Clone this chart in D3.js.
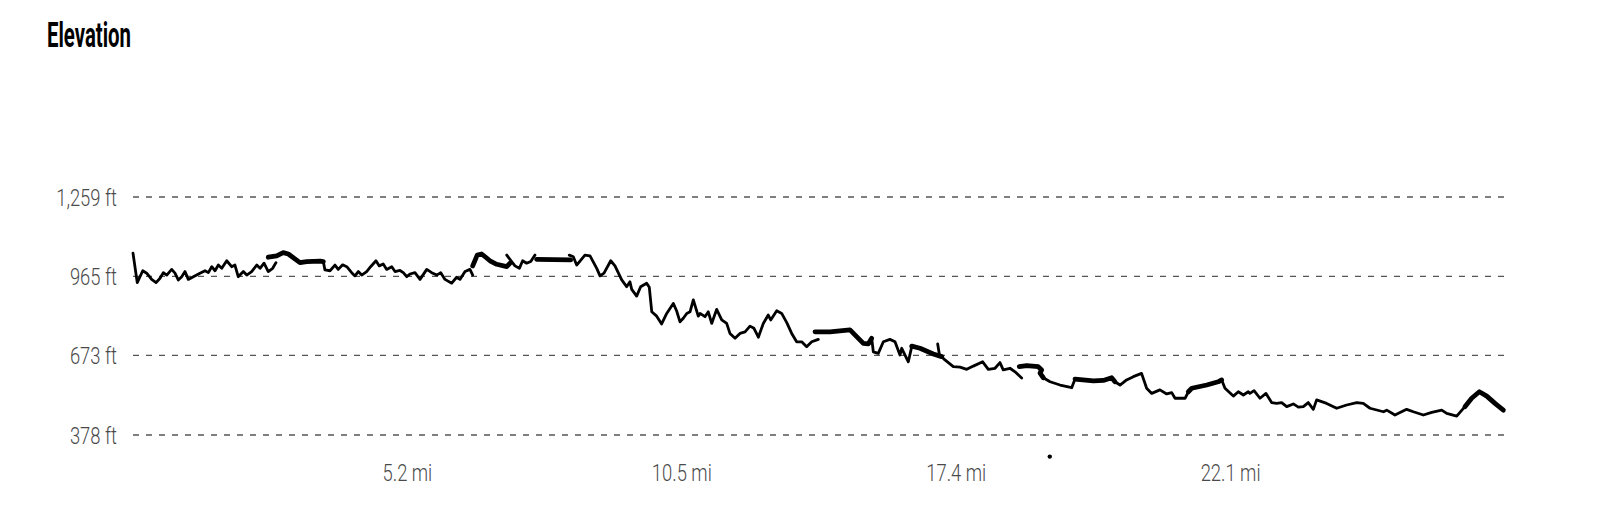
<!DOCTYPE html>
<html>
<head>
<meta charset="utf-8">
<script src="https://cdn.jsdelivr.net/npm/d3@7"></script>
<style>
  body { margin: 0; background: #fff; }
</style>
</head>
<body>
<div id="chart"></div>
<script>
var width = 1600,
    height = 528

// y axis ticks (ft) and x axis ticks (% of track) with their labels
var yTicks = [378, 673, 965, 1259]
var xTickPos = [20, 40, 60, 80]
var xTickLabels = ["5.2 mi", "10.5 mi", "17.4 mi", "22.1 mi"]

// track pieces: [percent of track, elevation ft]
var seg1 = [[0,1051],[0.31,942],[0.71,986],[1.0,977],[1.36,954],[1.68,942],[1.97,958],[2.21,979],[2.46,970],[2.82,991],[3.06,977],[3.30,952],[3.55,964],[3.79,983],[4.03,954],[4.40,964],[4.88,977],[5.25,986],[5.49,979],[5.74,1001],[5.98,986],[6.22,1007],[6.47,995],[6.83,1023],[7.19,1001],[7.43,1007],[7.67,964],[8.04,983],[8.29,970],[8.65,983],[9.02,1007],[9.26,995],[9.55,1014],[9.86,983],[10.18,995],[10.42,1016]]
var seg2 = [[9.86,1036],[10.47,1041],[10.95,1053],[11.32,1048],[12.17,1016],[12.66,1020],[13.63,1022],[13.87,1020]]
var seg3 = [[13.87,1020],[13.99,989],[14.36,986],[14.72,1007],[14.96,991],[15.28,1008],[15.58,1001],[15.94,979],[16.18,967],[16.42,983],[16.67,970],[17.03,983],[17.32,1001],[17.71,1023],[17.95,1004],[18.24,1011],[18.49,991],[18.86,1001],[19.10,983],[19.46,987],[19.70,979],[19.95,964],[20.19,974],[20.55,979],[20.92,954],[21.41,991],[21.77,979],[22.14,970],[22.43,979],[22.74,954],[23.23,940],[23.59,962],[23.83,954],[24.20,983],[24.56,991],[24.76,970]]
var seg4 = [[24.76,1004],[25.09,1044],[25.41,1048],[26.02,1023],[26.51,1010],[27.24,1001],[27.48,1014]]
var seg5 = [[27.24,1044],[27.60,1020],[27.84,1004],[28.16,995],[28.40,1023],[28.69,1014],[28.99,1020],[29.30,1044]]
var seg6 = [[29.42,1028],[31.90,1026]]
var seg7 = [[31.80,1044],[32.09,1038],[32.34,1007],[32.94,1044],[33.31,1041],[33.80,995],[34.04,967],[34.33,977],[34.82,1023],[35.13,1004],[35.62,952],[35.98,927],[36.22,945],[36.35,917],[36.71,892],[37.00,927],[37.44,940],[37.63,925],[37.81,834],[38.17,818],[38.53,789],[38.90,828],[39.38,865],[39.62,838],[39.87,797],[40.11,810],[40.36,828],[40.60,834],[40.84,878],[41.20,818],[41.33,828],[41.69,816],[41.93,834],[42.18,791],[42.54,843],[42.91,804],[43.27,791],[43.51,754],[43.88,736],[44.24,754],[44.61,760],[44.97,781],[45.26,773],[45.58,740],[45.94,791],[46.30,822],[46.48,804],[46.92,838],[47.28,828],[47.65,794],[48.01,754],[48.37,723],[48.74,723],[49.10,705],[49.47,723],[49.95,732]]
var seg8 = [[49.71,760],[50.80,760],[52.26,767],[53.23,717],[53.59,715],[53.84,736]]
var seg9 = [[53.84,736],[53.96,686],[54.32,680],[54.69,723],[55.17,732],[55.54,723],[55.90,674],[56.03,699],[56.27,674],[56.51,649],[56.76,705]]
var seg10 = [[56.76,707],[57.36,699],[58.33,678],[58.94,668]]
var seg11 = [[58.65,715],[58.80,668]]
var seg12 = [[58.94,668],[59.18,656],[59.79,631],[60.28,629],[60.77,621],[61.25,633],[61.93,649],[62.34,621],[62.83,625],[63.19,646],[63.43,619],[63.92,625],[64.29,612],[64.77,589]]
var seg13 = [[64.60,631],[65.14,635],[65.98,631],[66.23,619],[66.11,607],[66.35,590]]
var seg14 = [[66.35,590],[66.84,575],[67.57,563],[68.42,553],[68.66,585]]
var seg15 = [[68.66,585],[70.00,578],[70.72,580],[71.33,590],[71.57,575]]
var seg16 = [[71.57,575],[71.94,563],[72.42,582],[72.91,594],[73.51,606],[73.88,551],[74.25,532],[74.85,545],[75.34,530],[75.71,535],[75.95,514],[76.68,514],[76.92,538]]
var seg17 = [[76.92,538],[77.17,551],[78.26,563],[79.10,575],[79.35,582]]
var seg18 = [[79.35,582],[79.59,551],[80.20,522],[80.56,538],[80.93,526],[81.29,538],[81.41,532],[81.71,542],[82.14,514],[82.58,532],[82.99,498],[83.36,495],[83.72,498],[84.09,483],[84.57,493],[84.94,481],[85.30,483],[85.66,498],[86.03,473],[86.27,508],[87.00,495],[87.73,477],[88.46,489],[89.19,498],[89.67,495],[90.16,477],[91.14,464],[91.38,470],[91.98,452],[92.83,473],[93.32,464],[94.05,452],[94.66,462],[95.39,470],[95.75,458],[96.48,448],[97.08,483]]
var seg19 = [[97.08,483],[97.57,514],[98.13,538],[98.67,522],[99.27,495],[99.88,470]]

// thick pieces are where the recording doubles back over itself
var thinPieces = [seg1, seg3, seg5, seg7, seg9, seg11, seg12, seg14, seg16, seg18]
var thickPieces = [seg2, seg4, seg6, seg8, seg10, seg13, seg15, seg17, seg19]

// stray point below the profile
var strayPoints = [[66.82, 298]]

var svg = d3.select("#chart")
    .append("svg")
        .attr("width", width)
        .attr("height", height)
        .style("background-color", "white")

var x = d3.scaleLinear().domain([0, 100]).range([133, 1505])
var y = d3.scaleLinear().domain([378, 1259]).range([435, 197])

// title
svg.append("text")
    .attr("x", 47)
    .attr("y", 46.5)
    .attr("textLength", 84)
    .attr("lengthAdjust", "spacingAndGlyphs")
    .style("font-family", "Roboto, 'DejaVu Sans Condensed', sans-serif")
    .style("font-weight", 700)
    .style("font-size", "35px")
    .style("fill", "#000")
    .text("Elevation")

// dashed grid
svg.append("g")
    .selectAll("line")
    .data(yTicks)
    .enter()
    .append("line")
        .attr("x1", x(0))
        .attr("x2", x(100))
        .attr("y1", function(d) { return y(d) })
        .attr("y2", function(d) { return y(d) })
        .attr("stroke", "#555")
        .attr("stroke-width", 1.3)
        .attr("stroke-dasharray", "6,7")

var labelFont = "Roboto, 'Open Sans', sans-serif"
var squeeze = 0.8

// y labels
svg.append("g")
    .selectAll("text")
    .data(yTicks)
    .enter()
    .append("text")
        .attr("transform", function(d) { return "translate(117," + (y(d) + 8.5) + ") scale(" + squeeze + ",1)" })
        .attr("text-anchor", "end")
        .style("font-family", labelFont)
        .style("font-weight", 300)
        .style("font-size", "23px")
        .style("fill", "#4a4a4a")
        .text(function(d) { return d3.format(",")(d) + " ft" })

// x labels
svg.append("g")
    .selectAll("text")
    .data(xTickPos)
    .enter()
    .append("text")
        .attr("transform", function(d) { return "translate(" + x(d) + ",481) scale(" + squeeze + ",1)" })
        .attr("text-anchor", "middle")
        .style("font-family", labelFont)
        .style("font-weight", 300)
        .style("font-size", "23px")
        .style("fill", "#4a4a4a")
        .text(function(d, i) { return xTickLabels[i] })

var line = d3.line()
    .x(function(d) { return x(d[0]) })
    .y(function(d) { return y(d[1]) })
    .curve(d3.curveLinear)

svg.append("g")
    .selectAll("path")
    .data(thinPieces)
    .enter()
    .append("path")
        .attr("d", line)
        .attr("fill", "none")
        .attr("stroke", "#000")
        .attr("stroke-width", 2.8)
        .attr("stroke-linejoin", "round")
        .attr("stroke-linecap", "round")

svg.append("g")
    .selectAll("path")
    .data(thickPieces)
    .enter()
    .append("path")
        .attr("d", line)
        .attr("fill", "none")
        .attr("stroke", "#000")
        .attr("stroke-width", 4.8)
        .attr("stroke-linejoin", "round")
        .attr("stroke-linecap", "round")

svg.append("g")
    .selectAll("circle")
    .data(strayPoints)
    .enter()
    .append("circle")
        .attr("cx", function(d) { return x(d[0]) })
        .attr("cy", function(d) { return y(d[1]) })
        .attr("r", 2.2)
        .attr("fill", "#000")
</script>
</body>
</html>
